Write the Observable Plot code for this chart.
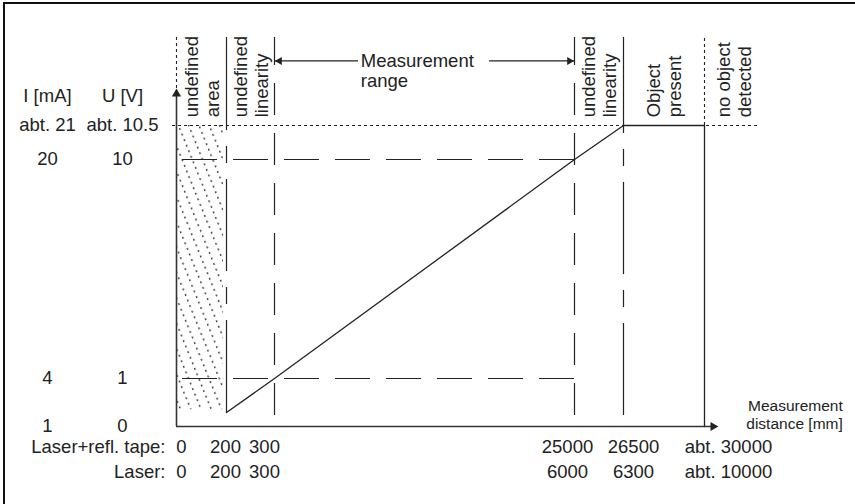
<!DOCTYPE html>
<html><head><meta charset="utf-8">
<script src="https://cdn.jsdelivr.net/npm/d3@7"></script>
<script src="https://cdn.jsdelivr.net/npm/@observablehq/plot@0.6"></script>
<style>
body{margin:0;background:#fff;overflow:hidden}
#chart{position:relative;width:855px;height:504px}
#chart::after{content:"";position:absolute;left:3px;top:2px;width:900px;height:600px;border-left:2px solid #111;border-top:2px solid #111;pointer-events:none}
</style>
</head><body><div id="chart"></div>
<script>
// ---- data ----
const distanceTape = [0, 200, 300, 25000, 26500, 30000];
const tapeLabels = ["0", "200", "300", "25000", "26500", "abt. 30000"];
const laserLabels = ["0", "200", "300", "6000", "6300", "abt. 10000"];
const outputLevels = [0, 1, 10, 10.5];
const currentLabels = ["1", "4", "20", "abt. 21"];
const voltageLabels = ["0", "1", "10", "abt. 10.5"];
const curveDistance = [200, 300, 25000, 26500, 30000, 30000];
const curveVoltage = [0.29, 1, 10, 10.5, 10.5, 0];
const zoneLabels = ["undefined\narea", "undefined\nlinearity", "undefined\nlinearity", "Object\npresent", "no object\ndetected"];
const zoneStart = [0, 200, 25000, 26500, 30000];
const zoneEnd = [200, 300, 26500, 30000, 32500];

// ---- build ----
const ink = "#222";
const font = "'Liberation Sans', Arial, Helvetica, sans-serif";
const curve = curveDistance.map((x, i) => ({x, y: curveVoltage[i]}));
const zones = zoneLabels.map((label, i) => ({label, mid: (zoneStart[i] + zoneEnd[i]) / 2}));
const levels = outputLevels.map((v, i) => ({v, mA: currentLabels[i], V: voltageLabels[i]}));
const tapeDx = [5, -1, -10, -7, 10, 24];

const tickMarks = [];
distanceTape.forEach((d, i) => {
  tickMarks.push(Plot.text([d], {x: v => v, y: 0, dy: 21, dx: tapeDx[i], text: [tapeLabels[i]], fill: ink}));
  tickMarks.push(Plot.text([d], {x: v => v, y: 0, dy: 46, dx: tapeDx[i], text: [laserLabels[i]], fill: ink}));
});

const chart = Plot.plot({
  width: 855, height: 504,
  margin: 0,
  style: {fontFamily: font, fontSize: "18.5px", color: ink, background: "white"},
  x: {type: "linear", domain: [0, 200, 300, 25000, 26500, 30000, 32500], range: [176, 226, 274, 574, 623, 704, 762], axis: null},
  y: {type: "linear", domain: [0, 1, 10, 10.5, 12], range: [426, 378, 159, 125, 37], axis: null},
  marks: [
    // hatched undefined area
    Plot.rect([{x1: zoneStart[0], x2: zoneEnd[0], y1: 0.35, y2: outputLevels[3]}], {x1: "x1", x2: "x2", y1: "y1", y2: "y2", fill: "url(#hatch)", insetRight: 3}),
    // guide lines
    Plot.ruleY([10.5], {x1: 0, x2: 32400, insetLeft: -4, stroke: ink, strokeWidth: 1.1, strokeDasharray: "3,3"}),
    Plot.ruleY([10, 1], {x1: 25000, x2: 0, insetRight: 4, stroke: ink, strokeWidth: 1.2, strokeDasharray: "35,16"}),
    Plot.ruleX([0], {y1: 11.13, y2: 12, stroke: ink, strokeWidth: 1.1, strokeDasharray: "3,3"}),
    Plot.ruleX([200, 26500], {y1: 10.5, y2: 12, stroke: ink, strokeWidth: 1.2}),
    Plot.ruleX([200], {y1: 0.29, y2: 10.5, stroke: ink, strokeWidth: 1.2, strokeDasharray: "92,16,17,16"}),
    Plot.ruleX([26500], {y1: 0.23, y2: 10.5, stroke: ink, strokeWidth: 1.2, strokeDasharray: "92,16,17,16"}),
    Plot.ruleX([300, 25000], {y1: 0.23, y2: 12, stroke: ink, strokeWidth: 1.2, strokeDasharray: "32,18"}),
    Plot.ruleX([30000], {y1: 10.5, y2: 12, stroke: ink, strokeWidth: 1.1, strokeDasharray: "3,3"}),
    // axes
    Plot.ruleX([0], {y1: 0, y2: 11.05, stroke: "#333", strokeWidth: 1.6}),
    Plot.ruleY([0], {x1: 0, x2: 30400, stroke: "#333", strokeWidth: 1.6}),
    Plot.dot([0], {x: d => d, y: 11.13, symbol: "triangle", r: 3.4, fill: ink, stroke: "none", dy: 5.3}),
    Plot.dot([30600], {x: d => d, y: 0, symbol: "triangle", rotate: 90, r: 3.4, fill: ink, stroke: "none", dx: -5.3}),
    // output curve
    Plot.line(curve, {x: "x", y: "y", stroke: ink, strokeWidth: 1.3}),
    // measurement range arrows
    Plot.ruleY([11.6], {x1: 300, x2: 7216, stroke: ink, strokeWidth: 1.2}),
    Plot.ruleY([11.6], {x1: 18000, x2: 25000, stroke: ink, strokeWidth: 1.2}),
    Plot.dot([300], {x: d => d, y: 11.6, symbol: "triangle", rotate: -90, r: 3, fill: ink, stroke: "none", dx: 5}),
    Plot.dot([25000], {x: d => d, y: 11.6, symbol: "triangle", rotate: 90, r: 3, fill: ink, stroke: "none", dx: -5}),
    Plot.text(["Measurement\nrange"], {x: 7400, y: 11.744, text: d => d, textAnchor: "start", lineAnchor: "top", lineHeight: 1.1, fill: ink}),
    // zone labels
    Plot.text(zones, {x: "mid", y: 10.64, text: "label", rotate: -90, textAnchor: "start", lineAnchor: "middle", lineHeight: 1.15, fill: ink}),
    // left scale labels
    Plot.text(["I [mA]"], {x: 0, y: 11.0, text: d => d, dx: -129, fill: ink}),
    Plot.text(["U [V]"], {x: 0, y: 11.0, text: d => d, dx: -54, fill: ink}),
    Plot.text(levels, {x: 0, y: "v", text: "mA", dx: -129, fill: ink}),
    Plot.text(levels, {x: 0, y: "v", text: "V", dx: -54, fill: ink}),
    // bottom scale labels
    Plot.text(["Laser+refl. tape:"], {x: 0, y: 0, dy: 21, dx: -11, text: d => d, textAnchor: "end", fill: ink}),
    Plot.text(["Laser:"], {x: 0, y: 0, dy: 46, dx: -11, text: d => d, textAnchor: "end", fill: ink}),
    ...tickMarks,
    Plot.text(["Measurement\ndistance [mm]"], {x: 35960, y: 0.25, text: d => d, textAnchor: "end", lineHeight: 1.12, fontSize: 15.5, fill: ink})
  ]
});

const svg = chart.tagName.toLowerCase() === "svg" ? d3.select(chart) : d3.select(chart).select("svg");
const defs = svg.insert("defs", ":first-child");
const pat = defs.append("pattern").attr("id", "hatch").attr("patternUnits", "userSpaceOnUse")
  .attr("width", 9.5).attr("height", 30).attr("patternTransform", "rotate(-22)");
pat.append("line").attr("x1", 4.5).attr("y1", 0).attr("x2", 4.5).attr("y2", 30)
  .attr("stroke", "#333").attr("stroke-width", 1.3).attr("stroke-dasharray", "2,4");
document.getElementById("chart").appendChild(chart);
</script>
</body></html>
